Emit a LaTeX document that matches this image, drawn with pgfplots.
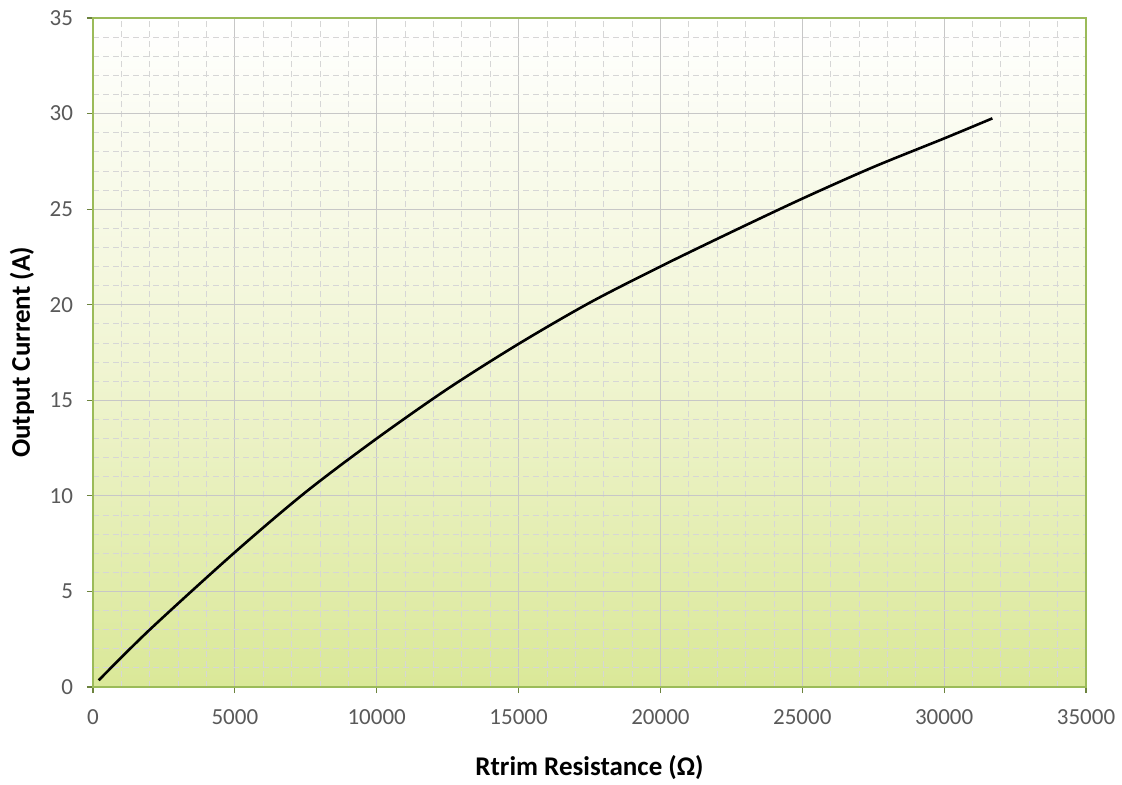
\documentclass[border=0pt]{standalone}
\usepackage{pgfplots}
\pgfplotsset{compat=1.18}
\usepackage{fontspec}
\setmainfont{Carlito}
\definecolor{frame}{RGB}{155,187,89}
\definecolor{tickgray}{RGB}{89,89,89}
\definecolor{bottomfill}{RGB}{218,232,152}
\definecolor{midfill}{RGB}{241,245,212}
\begin{document}
\begin{tikzpicture}
\useasboundingbox (0,0) rectangle (561pt,392pt);
\begin{axis}[
  at={(46.5pt,48.5pt)}, anchor=south west,
  scale only axis, width=496.5pt, height=334.5pt,
  xmin=0, xmax=35000, ymin=0, ymax=35,
  xtick={0,5000,...,35000}, ytick={0,5,...,35},
  minor x tick num=4, minor y tick num=4,
  scaled x ticks=false,
  /pgf/number format/.cd, 1000 sep={}, assume math mode=true,
  /pgfplots/.cd,
  grid=both,
  major grid style={draw=black!22, line width=0.5pt},
  minor grid style={draw=black!16, dash pattern=on 3pt off 2pt, line width=0.4pt},
  axis line style={draw=frame, line width=1.2pt},
  tick style={draw=frame!70!black, line width=0.6pt},
  minor tick length=0pt,
  major tick length=3pt,
  tick align=outside,
  xtick pos=bottom, ytick pos=left,
  tick label style={font=\fontsize{11.5}{13}\selectfont, text=tickgray},
  xticklabel style={yshift=-4.5pt},
  yticklabel style={xshift=-3.5pt},
  axis background/.style={top color=white, bottom color=bottomfill, middle color=midfill},
  xlabel={\textbf{Rtrim Resistance (Ω)}},
  ylabel={\textbf{Output Current (A)}},
  label style={font=\fontsize{13.5}{15}\selectfont, text=black},
  xlabel style={at={(axis description cs:0.5,-0.121)}, anchor=center},
  ylabel style={at={(axis description cs:-0.0715,0.5)}, anchor=center, rotate=0},
]
\addplot[black, line width=1.3pt, smooth] coordinates {
(200,0.35) (2000,3.0) (5000,7.05) (7500,10.2) (10000,13.0) (12500,15.6)
(15000,17.95) (17500,20.1) (20000,22.0) (22500,23.8) (25000,25.55)
(27500,27.2) (30000,28.7) (31700,29.75)
};
\end{axis}
\end{tikzpicture}
\end{document}
